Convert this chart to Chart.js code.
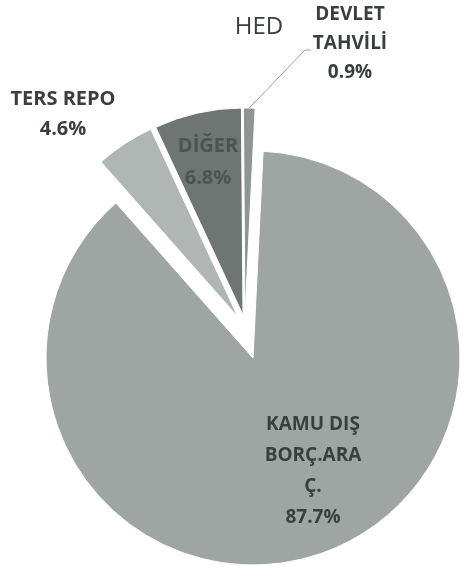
<!DOCTYPE html>
<html>
<head>
<meta charset="utf-8">
<script src="https://cdn.jsdelivr.net/npm/chart.js@4"></script>
<style>
  html, body { margin: 0; padding: 0; background: #fff; overflow: hidden; }
  #wrap { position: relative; width: 461px; height: 574px; }
</style>
</head>
<body>
<div id="wrap"><canvas id="pie" width="461" height="574"></canvas></div>
<script>
(function() {
  'use strict';

  var sliceNames = ['KAMU DIŞ BORÇ.ARAÇ.', 'TERS REPO', 'DİĞER', 'DEVLET TAHVİLİ'];
  var sliceShares = [87.7, 4.6, 6.8, 0.9];
  var labelLines = [
    ['KAMU DIŞ', 'BORÇ.ARA', 'Ç.', '87.7%'],
    ['TERS REPO', '4.6%'],
    ['DİĞER', '6.8%'],
    ['DEVLET', 'TAHVİLİ', '0.9%']
  ];
  var titleText = 'HED';

  var sliceColors = ['#9fa5a2', '#b0b6b3', '#6f7572', '#8f9593'];
  // the small slices are pulled out together, up and a bit left
  var sliceShift = [
    { x: 0, y: 0 },
    { x: -15, y: -41 },
    { x: -10, y: -43 },
    { x: -8, y: -43 }
  ];

  // label block centres, relative to the pie centre
  var labelSpots = [
    { dx: 60, dy: 113, lh: 31, size: 19, color: '#3a3f3d' },
    { dx: -190, dy: -244, lh: 30, size: 20, color: '#3a3f3d' },
    { dx: -45, dy: -196, lh: 32, size: 20, color: '#4d5350' },
    { dx: 97, dy: -314, lh: 29, size: 19, color: '#3a3f3d' }
  ];

  var shiftPlugin = {
    id: 'groupShift',
    beforeDatasetDraw: function(chart, args) {
      var ctx = chart.ctx;
      var arcs = args.meta.data;
      for (var i = 0; i < arcs.length; i++) {
        ctx.save();
        ctx.translate(sliceShift[i].x, sliceShift[i].y);
        arcs[i].draw(ctx, chart.chartArea);
        ctx.restore();
      }
      return false;
    }
  };

  var labelPlugin = {
    id: 'sliceLabels',
    afterDatasetsDraw: function(chart) {
      var ctx = chart.ctx;
      var arcs = chart.getDatasetMeta(0).data;
      var cx = arcs[0].x;
      var cy = arcs[0].y;
      ctx.save();
      ctx.textAlign = 'center';
      ctx.textBaseline = 'middle';

      // leader line for the small slice
      var small = arcs[3];
      var half = (small.startAngle + small.endAngle) / 2;
      var px = cx + sliceShift[3].x + Math.cos(half) * small.outerRadius;
      var py = cy + sliceShift[3].y + Math.sin(half) * small.outerRadius;
      ctx.strokeStyle = '#9a9f9d';
      ctx.lineWidth = 1;
      ctx.beginPath();
      ctx.moveTo(px, py);
      ctx.lineTo(cx + 52, cy - 308);
      ctx.lineTo(cx + 58, cy - 308);
      ctx.stroke();

      for (var i = 0; i < labelLines.length; i++) {
        var spot = labelSpots[i];
        var lines = labelLines[i];
        ctx.font = 'bold ' + spot.size + 'px "Open Sans", sans-serif';
        ctx.fillStyle = spot.color;
        var top = cy + spot.dy - (lines.length - 1) * spot.lh / 2;
        for (var j = 0; j < lines.length; j++) {
          ctx.fillText(lines[j], cx + spot.dx, top + j * spot.lh);
        }
      }

      ctx.font = '24px "Open Sans", sans-serif';
      ctx.fillStyle = '#3a3f3d';
      ctx.fillText(titleText, cx + 6, cy - 331);
      ctx.restore();
    }
  };

  new Chart(document.getElementById('pie'), {
    type: 'pie',
    data: {
      labels: sliceNames,
      datasets: [{
        data: sliceShares,
        backgroundColor: sliceColors,
        borderColor: '#ffffff',
        borderWidth: 1,
        clip: false
      }]
    },
    options: {
      responsive: false,
      animation: false,
      rotation: 2.8,
      radius: 207,
      layout: { padding: { left: 45, top: 142, right: 0, bottom: 0 } },
      plugins: {
        legend: { display: false },
        tooltip: { enabled: false },
        title: { display: false }
      }
    },
    plugins: [shiftPlugin, labelPlugin]
  });
})();
</script>
</body>
</html>
